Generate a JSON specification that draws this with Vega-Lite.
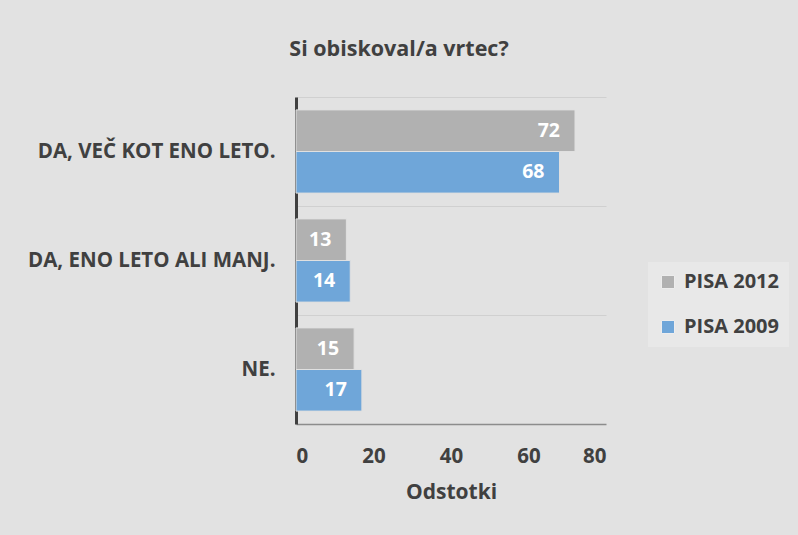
{
  "$schema": "https://vega.github.io/schema/vega-lite/v6.json",
  "autosize": "none",
  "width": 310,
  "height": 327,
  "padding": {"left": 296, "top": 97, "right": 192, "bottom": 111},
  "background": "#e2e2e2",
  "title": {
    "text": "Si obiskoval/a vrtec?",
    "font": "Open Sans",
    "fontSize": 21.5,
    "fontWeight": "bold",
    "color": "#404040",
    "anchor": "middle",
    "dx": -52,
    "offset": 37
  },
  "data": {
    "values": [
      {"kategorija": "DA, VEČ KOT ENO LETO.", "serija": "PISA 2012", "vrednost": 72},
      {"kategorija": "DA, VEČ KOT ENO LETO.", "serija": "PISA 2009", "vrednost": 68},
      {"kategorija": "DA, ENO LETO ALI MANJ.", "serija": "PISA 2012", "vrednost": 13},
      {"kategorija": "DA, ENO LETO ALI MANJ.", "serija": "PISA 2009", "vrednost": 14},
      {"kategorija": "NE.", "serija": "PISA 2012", "vrednost": 15},
      {"kategorija": "NE.", "serija": "PISA 2009", "vrednost": 17}
    ]
  },
  "encoding": {
    "y": {
      "field": "kategorija",
      "type": "nominal",
      "sort": ["DA, VEČ KOT ENO LETO.", "DA, ENO LETO ALI MANJ.", "NE."],
      "scale": {"paddingInner": 0, "paddingOuter": 0},
      "axis": {
        "title": null,
        "ticks": false,
        "grid": true,
        "bandPosition": 0,
        "gridColor": "#d0d0d0",
        "gridWidth": 1,
        "domainColor": "#404040",
        "domainWidth": 3,
        "labelFont": "Open Sans",
        "labelFontSize": 20.5,
        "labelFontWeight": "bold",
        "labelColor": "#404040",
        "labelPadding": 21,
        "labelLimit": 300
      }
    },
    "yOffset": {
      "field": "serija",
      "type": "nominal",
      "sort": ["PISA 2012", "PISA 2009"],
      "scale": {"paddingInner": 0, "paddingOuter": 0.31}
    },
    "x": {
      "field": "vrednost",
      "type": "quantitative",
      "scale": {"domain": [0, 80], "nice": false},
      "axis": {
        "title": "Odstotki",
        "values": [0, 20, 40, 60, 80],
        "ticks": false,
        "grid": false,
        "domainColor": "#8c8c8c",
        "domainWidth": 1.5,
        "labelFont": "Open Sans",
        "labelFontSize": 20.5,
        "labelFontWeight": "bold",
        "labelColor": "#404040",
        "labelPadding": 22,
        "titleFont": "Open Sans",
        "titleFontSize": 21,
        "titleFontWeight": "bold",
        "titleColor": "#404040",
        "titlePadding": 15
      }
    }
  },
  "layer": [
    {
      "mark": {"type": "bar", "stroke": "#e0e0e0", "strokeWidth": 1},
      "encoding": {
        "color": {
          "field": "serija",
          "type": "nominal",
          "scale": {"domain": ["PISA 2012", "PISA 2009"], "range": ["#b1b1b1", "#6fa6d9"]},
          "legend": {
            "title": null,
            "orient": "none",
            "legendX": 352,
            "legendY": 165,
            "symbolType": "square",
            "symbolSize": 170,
            "symbolStrokeColor": "#eeeeee",
            "symbolStrokeWidth": 1,
            "labelFont": "Open Sans",
            "labelFontSize": 20,
            "labelFontWeight": "bold",
            "labelColor": "#404040",
            "labelOffset": 6,
            "rowPadding": 25,
            "fillColor": "#e8e8e8",
            "padding": 10
          }
        }
      }
    },
    {
      "mark": {
        "type": "text",
        "align": "right",
        "dx": -15,
        "font": "Open Sans",
        "fontSize": 19.5,
        "fontWeight": "bold",
        "color": "white"
      },
      "encoding": {
        "text": {"field": "vrednost", "type": "quantitative"}
      }
    }
  ],
  "config": {
    "view": {"stroke": null}
  }
}
